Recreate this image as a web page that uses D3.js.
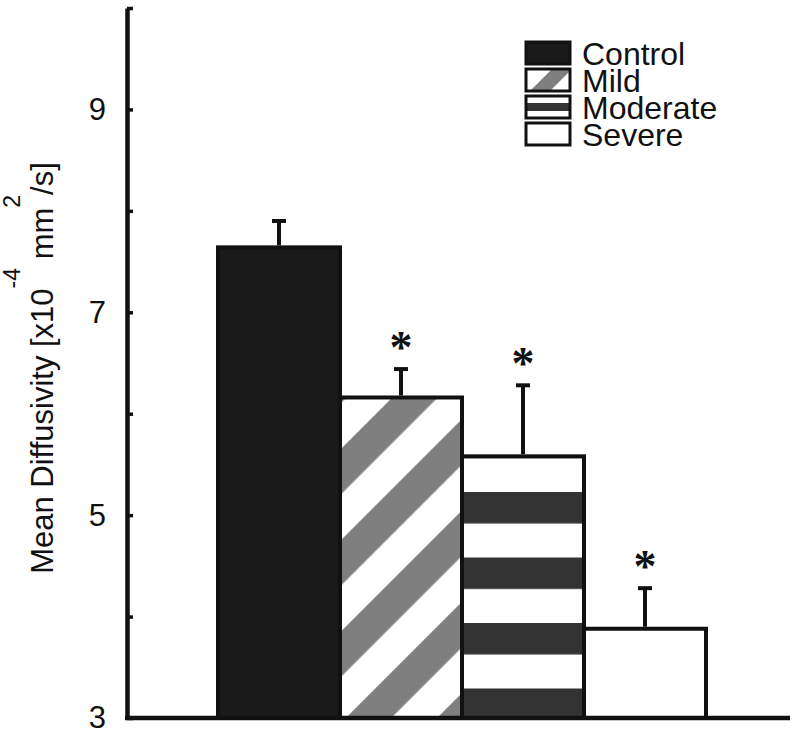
<!DOCTYPE html>
<html>
<head>
<meta charset="utf-8">
<script src="https://cdn.jsdelivr.net/npm/d3@7"></script>
<style>
  html, body { margin: 0; padding: 0; background: #fff; }
  svg { display: block; }
  text { font-family: "Liberation Sans", Arial, Helvetica, sans-serif; fill: #111; }
</style>
</head>
<body>
<svg id="chart" width="792" height="733"></svg>
<script>
// ---- data ----
const categories = ["Control", "Mild", "Moderate", "Severe"];
const means      = [7.64, 6.16, 5.58, 3.88];
const errors     = [0.26, 0.28, 0.70, 0.40];
const significant = [false, true, true, true];
const yTicks      = [3, 4, 5, 6, 7, 8, 9, 10];
const yTickLabels = [3, 5, 7, 9];

const svg = d3.select("#chart");

const y = d3.scaleLinear().domain([3, 10]).range([718, 8]);
const x = d3.scaleBand().domain(categories).range([218, 706]).padding(0);

const defs = svg.append("defs");
// diagonal stripes for Mild
const pm = defs.append("pattern")
  .attr("id", "mildPat").attr("patternUnits", "userSpaceOnUse")
  .attr("x", 42).attr("y", 0).attr("width", 64.56).attr("height", 20)
  .attr("patternTransform", "rotate(45)");
pm.append("rect").attr("width", 64.56).attr("height", 20).attr("fill", "#fff");
pm.append("rect").attr("width", 32.2).attr("height", 20).attr("fill", "#7f7f7f");
// horizontal bands for Moderate
const pmo = defs.append("pattern")
  .attr("id", "modPat").attr("patternUnits", "userSpaceOnUse")
  .attr("x", 0).attr("y", 492).attr("width", 800).attr("height", 65.5);
pmo.append("rect").attr("width", 800).attr("height", 65.5).attr("fill", "#fff");
pmo.append("rect").attr("width", 800).attr("height", 31.5).attr("fill", "#333");

const fills = ["#1a1a1a", "url(#mildPat)", "url(#modPat)", "#fff"];

// ---- bars ----
svg.append("g").selectAll("rect").data(categories).join("rect")
  .attr("x", d => x(d))
  .attr("width", x.bandwidth())
  .attr("y", (d, i) => y(means[i]))
  .attr("height", (d, i) => y(3) - y(means[i]))
  .attr("fill", (d, i) => fills[i])
  .attr("stroke", "#111")
  .attr("stroke-width", 4);

// ---- error bars ----
const eb = svg.append("g").attr("stroke", "#111").attr("stroke-width", 4);
categories.forEach((c, i) => {
  const cx = x(c) + x.bandwidth() / 2;
  eb.append("line").attr("x1", cx).attr("x2", cx)
    .attr("y1", y(means[i]) - 2).attr("y2", y(means[i] + errors[i]));
  eb.append("line").attr("x1", cx - 7).attr("x2", cx + 7)
    .attr("y1", y(means[i] + errors[i])).attr("y2", y(means[i] + errors[i]));
});

// ---- significance stars ----
svg.append("g").selectAll("text").data(categories.filter((c, i) => significant[i])).join("text")
  .attr("x", d => x(d) + x.bandwidth() / 2)
  .attr("y", d => { const i = categories.indexOf(d); return y(means[i] + errors[i]) - 28 + 22; })
  .attr("text-anchor", "middle")
  .style("font-family", "'Liberation Serif', 'Times New Roman', serif")
  .style("font-weight", "bold")
  .style("font-size", "46px")
  .text("*");

// ---- axes ----
const yAxis = d3.axisLeft(y).tickValues(yTicks)
  .tickFormat(d => yTickLabels.includes(d) ? d : "")
  .tickSizeInner(-6).tickSizeOuter(0).tickPadding(21);
const gy = svg.append("g").attr("transform", "translate(127,0)").call(yAxis);
gy.select(".domain").attr("stroke", "#111").attr("stroke-width", 4.5);
gy.selectAll(".tick line").attr("stroke", "#111").attr("stroke-width", 3.5);
gy.selectAll(".tick text").style("font-size", "31px").attr("fill", "#111")
  .style("font-family", "'Liberation Sans', Arial, sans-serif");

svg.append("line").attr("x1", 125).attr("x2", 790).attr("y1", 718).attr("y2", 718)
  .attr("stroke", "#111").attr("stroke-width", 4.5);

// ---- y title ----
const t = svg.append("text")
  .attr("transform", "translate(53,368) rotate(-90)")
  .attr("text-anchor", "middle")
  .style("font-size", "31px");
t.append("tspan").text("Mean Diffusivity [x10");
t.append("tspan").attr("dy", -33).style("font-size", "23px").text("-4");
t.append("tspan").attr("dy", 33).text(" mm");
t.append("tspan").attr("dy", -33).style("font-size", "23px").text("2");
t.append("tspan").attr("dy", 33).text("/s]");

// ---- legend ----
const lg = svg.append("g");
const lx = 526, lw = 44, lh = 22;
const baselines = [65, 92, 119, 146];
categories.forEach((c, i) => {
  const by = baselines[i] - 23;
  const g = lg.append("g").attr("transform", `translate(${lx},${by})`);
  const clipId = "lc" + i;
  defs.append("clipPath").attr("id", clipId).append("rect").attr("width", lw).attr("height", lh);
  g.append("rect").attr("width", lw).attr("height", lh)
    .attr("fill", i === 0 ? "#1a1a1a" : "#fff");
  if (i === 1) {
    g.append("polygon").attr("clip-path", `url(#${clipId})`)
      .attr("points", `4,${lh} 24,${lh} ${24 + lh},0 ${4 + lh},0`).attr("fill", "#7f7f7f");
  }
  if (i === 2) {
    g.append("rect").attr("y", 7).attr("width", lw).attr("height", 8).attr("fill", "#333");
  }
  g.append("rect").attr("width", lw).attr("height", lh)
    .attr("fill", "none").attr("stroke", "#111").attr("stroke-width", 3);
  lg.append("text").attr("x", 582).attr("y", baselines[i])
    .style("font-size", "32px").text(c);
});
</script>
</body>
</html>
